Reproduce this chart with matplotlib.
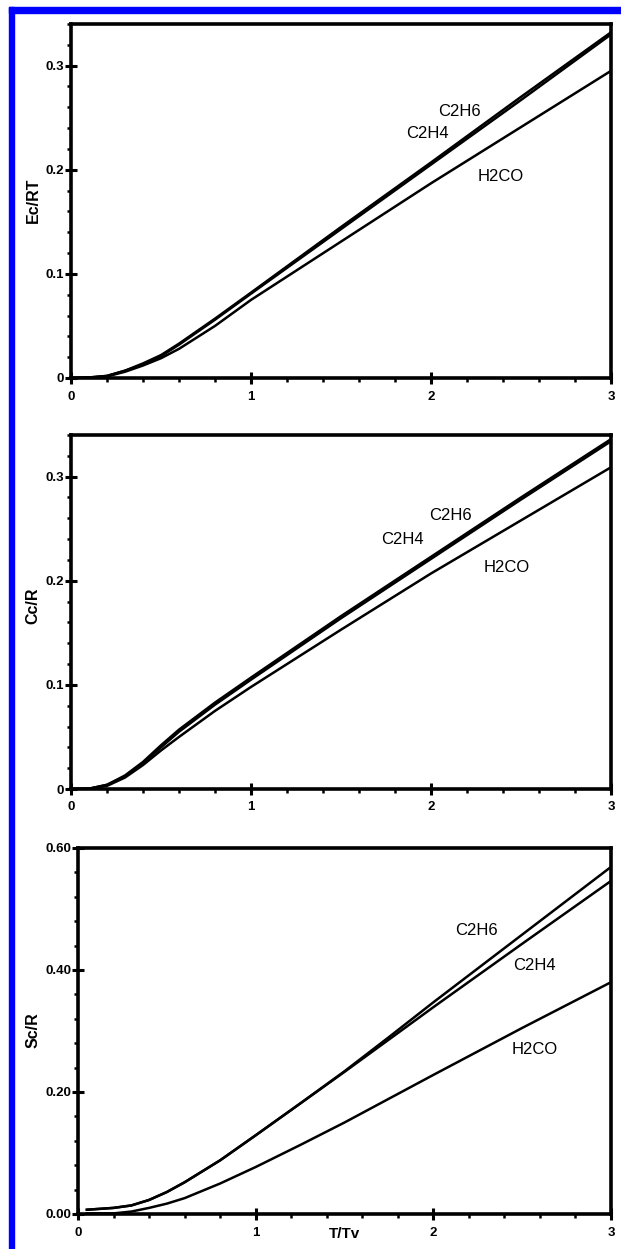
import numpy as np
import matplotlib
matplotlib.use("Agg")
import matplotlib.pyplot as plt
from matplotlib.patches import Rectangle
from matplotlib.ticker import MultipleLocator, FormatStrFormatter

plt.rcParams['font.family'] = ['Liberation Sans', 'DejaVu Sans']

# ---- data (T/Tv on x) ----
x_ab = [0, 0.1, 0.2, 0.3, 0.4, 0.5, 0.6, 0.8, 1.0, 1.5, 2.0, 2.5, 3.0]

# Ec/RT
ec_c2h6 = [0, 0.0005, 0.002, 0.007, 0.014, 0.022, 0.033, 0.057, 0.082, 0.145, 0.207, 0.270, 0.332]
ec_c2h4 = [0, 0.0005, 0.002, 0.007, 0.013, 0.021, 0.032, 0.056, 0.081, 0.143, 0.205, 0.267, 0.330]
ec_h2co = [0, 0.0003, 0.0015, 0.006, 0.012, 0.019, 0.028, 0.050, 0.075, 0.131, 0.187, 0.241, 0.295]

# Cc/R
cc_c2h6 = [0, 0.0003, 0.004, 0.013, 0.026, 0.042, 0.057, 0.083, 0.107, 0.166, 0.223, 0.280, 0.336]
cc_c2h4 = [0, 0.0003, 0.004, 0.012, 0.025, 0.040, 0.055, 0.081, 0.105, 0.164, 0.221, 0.278, 0.334]
cc_h2co = [0, 0.0002, 0.003, 0.011, 0.023, 0.037, 0.050, 0.075, 0.098, 0.153, 0.207, 0.258, 0.309]

# Sc/R
x_s = [0.05, 0.1, 0.2, 0.3, 0.4, 0.5, 0.6, 0.8, 1.0, 1.25, 1.5, 1.75, 2.0, 2.5, 3.0]
sc_c2h6 = [0.007, 0.008, 0.010, 0.014, 0.023, 0.036, 0.052, 0.088, 0.129, 0.181, 0.234, 0.290, 0.347, 0.458, 0.569]
sc_c2h4 = [0.007, 0.008, 0.010, 0.014, 0.023, 0.036, 0.052, 0.088, 0.129, 0.181, 0.233, 0.286, 0.339, 0.443, 0.546]
sc_h2co = [0.001, 0.001, 0.001, 0.004, 0.010, 0.017, 0.026, 0.050, 0.077, 0.113, 0.150, 0.189, 0.228, 0.305, 0.380]

# label positions (x, y) per panel
lab_ec = {'C2H6': (2.16, 0.256), 'C2H4': (1.98, 0.235), 'H2CO': (2.39, 0.194)}
lab_cc = {'C2H6': (2.11, 0.263), 'C2H4': (1.84, 0.240), 'H2CO': (2.42, 0.2125)}
lab_sc = {'C2H6': (2.24, 0.464), 'C2H4': (2.57, 0.408), 'H2CO': (2.57, 0.269)}

W, H = 621, 1249
fig = plt.figure(figsize=(W / 100, H / 100), dpi=100)


def px_axes(left, right, top, bottom):
    return fig.add_axes([left / W, 1 - bottom / H, (right - left) / W, (bottom - top) / H])


panels = [
    dict(box=(71, 611, 24, 378), x=x_ab, ys=(ec_c2h6, ec_c2h4, ec_h2co), lab=lab_ec,
         ylim=0.34, major=0.1, minor=0.02, fmt=None, ylabel='Ec/RT', ylab_y=200),
    dict(box=(71, 611, 435, 789), x=x_ab, ys=(cc_c2h6, cc_c2h4, cc_h2co), lab=lab_cc,
         ylim=0.34, major=0.1, minor=0.02, fmt=None, ylabel='Cc/R', ylab_y=606),
    dict(box=(78, 611, 848, 1214), x=x_s, ys=(sc_c2h6, sc_c2h4, sc_h2co), lab=lab_sc,
         ylim=0.6, major=0.2, minor=0.04, fmt='%.2f', ylabel='Sc/R', ylab_y=1030),
]

for p in panels:
    ax = px_axes(*p['box'])
    for y in p['ys']:
        ax.plot(p['x'], y, color='black', linewidth=1.8, solid_joinstyle='round')
    for name, (tx, ty) in p['lab'].items():
        ax.text(tx, ty, name, fontsize=12, ha='center', va='center')
    ax.set_xlim(0, 3)
    ax.set_ylim(0, p['ylim'])
    ax.xaxis.set_major_locator(MultipleLocator(1))
    ax.xaxis.set_minor_locator(MultipleLocator(0.2))
    ax.yaxis.set_major_locator(MultipleLocator(p['major']))
    ax.yaxis.set_minor_locator(MultipleLocator(p['minor']))
    if p['fmt']:
        ax.yaxis.set_major_formatter(FormatStrFormatter(p['fmt']))
    else:
        ax.yaxis.set_major_formatter(lambda v, pos: '0' if abs(v) < 1e-9 else '%.1f' % v)
    ax.xaxis.set_major_formatter(lambda v, pos: '%d' % round(v))
    for s in ax.spines.values():
        s.set_linewidth(2.6)
    ax.tick_params(which='major', direction='inout', length=8, width=2.2,
                   labelsize=9.5, top=False, right=False)
    ax.tick_params(axis='y', which='major', pad=1)
    ax.tick_params(axis='x', which='major', pad=5)
    ax.tick_params(which='minor', direction='out', length=3, width=1.8, top=False, right=False)
    for t in ax.get_xticklabels() + ax.get_yticklabels():
        t.set_fontweight('bold')
    fig.text(33 / W, 1 - p['ylab_y'] / H, p['ylabel'], rotation=90, ha='center', va='center',
             fontsize=11.5, fontweight='bold')
    last = ax

last.text(1.5, -0.055, 'T/Tv', transform=last.get_xaxis_transform(), ha='center', va='center',
          fontsize=11, fontweight='bold')

# blue frame on the left and top edges
fig.patches.append(Rectangle((9 / W, 0), 4.5 / W, 1 - 7 / H, transform=fig.transFigure,
                             color='#0000ff', zorder=10))
fig.patches.append(Rectangle((9 / W, 1 - 12.5 / H), 1, 5.5 / H, transform=fig.transFigure,
                             color='#0000ff', zorder=10))

fig.savefig('out.png', dpi=100)
